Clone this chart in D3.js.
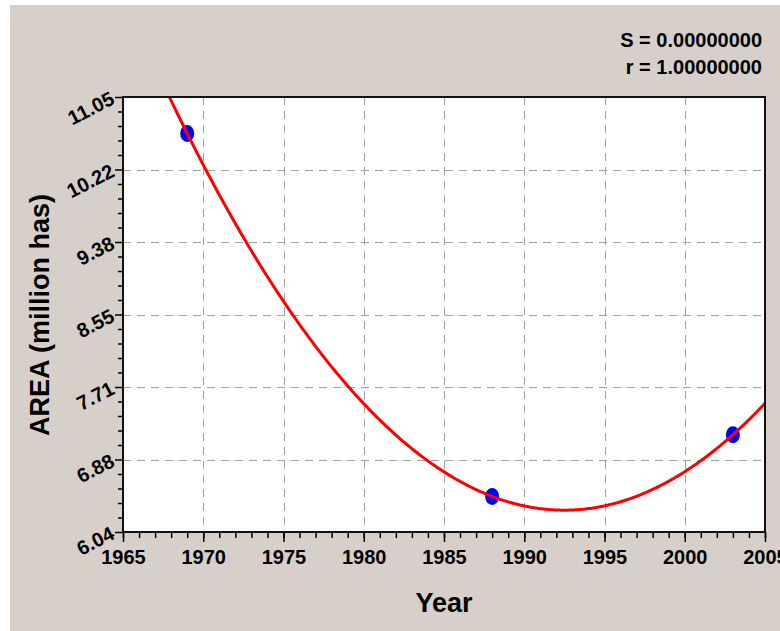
<!DOCTYPE html>
<html>
<head>
<meta charset="utf-8">
<script src="https://cdn.jsdelivr.net/npm/d3@7"></script>
<style>
  html, body { margin: 0; padding: 0; background: #ffffff; }
  svg { display: block; }
  text { font-family: "Liberation Sans", Arial, sans-serif; font-weight: bold; fill: #000; }
</style>
</head>
<body>
<svg id="chart" width="780" height="631"></svg>
<script>
// ---- data ----
const years = [1969, 1988, 2003];
const areas = [10.63, 6.45, 7.16];
const xTickValues = [1965, 1970, 1975, 1980, 1985, 1990, 1995, 2000, 2005];
const yTickValues = [6.04, 6.875, 7.71, 8.545, 9.38, 10.215, 11.05];
const yTickLabels = ["6.04", "6.88", "7.71", "8.55", "9.38", "10.22", "11.05"];
const statLabels = ["S = 0.00000000", "r = 1.00000000"];
const xTitle = "Year";
const yTitle = "AREA (million has)";

// ---- layout ----
const W = 780, H = 631;
const L = 123, R = 765, T = 97, B = 532;

const svg = d3.select("#chart");
svg.append("rect").attr("x", 10).attr("y", 5).attr("width", W - 10).attr("height", H - 5).attr("fill", "#d7cfc9");

const x = d3.scaleLinear().domain([1965, 2005]).range([L, R]);
const y = d3.scaleLinear().domain([6.04, 11.05]).range([B, T]);

// plot background
svg.append("rect").attr("x", L).attr("y", T).attr("width", R - L).attr("height", B - T).attr("fill", "#ffffff");

// grid
const grid = svg.append("g").attr("stroke", "#a0a0a0").attr("stroke-width", 1).attr("stroke-dasharray", "8,6");
xTickValues.slice(1, -1).forEach(v => {
  grid.append("line").attr("x1", Math.round(x(v)) + 0.5).attr("x2", Math.round(x(v)) + 0.5).attr("y1", T).attr("y2", B);
});
yTickValues.slice(1, -1).forEach(v => {
  grid.append("line").attr("y1", Math.round(y(v)) + 0.5).attr("y2", Math.round(y(v)) + 0.5).attr("x1", L).attr("x2", R);
});

// minor ticks
const minorX = d3.range(1965, 2006, 1);
const minorY = [];
for (let i = 0; i < yTickValues.length - 1; i++) {
  const a = yTickValues[i], b = yTickValues[i + 1];
  for (let k = 1; k < 5; k++) minorY.push(a + (b - a) * k / 5);
}

// x axis
const xAxis = svg.append("g").attr("transform", `translate(0,${B})`);
xAxis.call(d3.axisBottom(x).tickValues(minorX).tickSize(6).tickFormat(""));
xAxis.append("g").call(d3.axisBottom(x).tickValues(xTickValues).tickSize(10).tickFormat(d3.format("d")));
xAxis.selectAll("path.domain").remove();
xAxis.selectAll("line").attr("stroke", "#000").attr("stroke-width", 1.5);
xAxis.selectAll("text").attr("font-size", 20).attr("dy", "0.95em").attr("fill", "#000")
  .style("font-family", '"Liberation Sans", Arial, sans-serif').style("font-weight", "bold");

// y axis
const yAxis = svg.append("g").attr("transform", `translate(${L},0)`);
yAxis.call(d3.axisLeft(y).tickValues(minorY).tickSize(5).tickFormat(""));
const yMaj = yAxis.append("g").call(d3.axisLeft(y).tickValues(yTickValues).tickSize(8).tickFormat((d, i) => yTickLabels[i]));
yAxis.selectAll("path.domain").remove();
yAxis.selectAll("line").attr("stroke", "#000").attr("stroke-width", 1.5);
yMaj.selectAll("text")
  .attr("font-size", 20).attr("x", -10).attr("dy", "0.32em")
  .attr("transform", "rotate(-27,-10,0)")
  .attr("fill", "#000")
  .style("font-family", '"Liberation Sans", Arial, sans-serif').style("font-weight", "bold");

// clip
svg.append("clipPath").attr("id", "plotclip").append("rect").attr("x", L).attr("y", T).attr("width", R - L).attr("height", B - T);

// points
svg.append("g").selectAll("ellipse").data(years).join("ellipse")
  .attr("cx", (d, i) => x(d)).attr("cy", (d, i) => y(areas[i]))
  .attr("rx", 7).attr("ry", 8.5).attr("fill", "#0000ff");

// quadratic regression fitted to the data (S = 0, r = 1)
function polyfit2(xs, ys) {
  const x0 = d3.mean(xs);
  const n = xs.length;
  let s = [0, 0, 0, 0, 0], t = [0, 0, 0];
  for (let i = 0; i < n; i++) {
    const u = xs[i] - x0;
    for (let p = 0; p < 5; p++) s[p] += Math.pow(u, p);
    for (let p = 0; p < 3; p++) t[p] += ys[i] * Math.pow(u, p);
  }
  const M = [[s[0], s[1], s[2], t[0]], [s[1], s[2], s[3], t[1]], [s[2], s[3], s[4], t[2]]];
  for (let c = 0; c < 3; c++) {
    for (let r = c + 1; r < 3; r++) {
      const f = M[r][c] / M[c][c];
      for (let k = c; k < 4; k++) M[r][k] -= f * M[c][k];
    }
  }
  const co = [0, 0, 0];
  for (let r = 2; r >= 0; r--) {
    let v = M[r][3];
    for (let k = r + 1; k < 3; k++) v -= M[r][k] * co[k];
    co[r] = v / M[r][r];
  }
  return xv => co[0] + co[1] * (xv - x0) + co[2] * (xv - x0) * (xv - x0);
}
const fit = polyfit2(years, areas);
const curveX = d3.range(1965, 2005.001, 0.1);
svg.append("path")
  .attr("clip-path", "url(#plotclip)")
  .attr("d", d3.line().x(d => x(d)).y(d => y(fit(d)))(curveX))
  .attr("fill", "none").attr("stroke", "#ff0000").attr("stroke-width", 3);

// frame
svg.append("rect").attr("x", L).attr("y", T).attr("width", R - L).attr("height", B - T)
  .attr("fill", "none").attr("stroke", "#111").attr("stroke-width", 2);

// titles
svg.append("text").attr("x", 444).attr("y", 612).attr("text-anchor", "middle").attr("font-size", 27).text(xTitle);
svg.append("text").attr("transform", "translate(49,315) rotate(-90)").attr("text-anchor", "middle").attr("font-size", 27).text(yTitle);

// stats
svg.append("g").selectAll("text").data(statLabels).join("text")
  .attr("x", 762).attr("y", (d, i) => 47 + i * 27).attr("text-anchor", "end").attr("font-size", 20).text(d => d);
</script>
</body>
</html>
